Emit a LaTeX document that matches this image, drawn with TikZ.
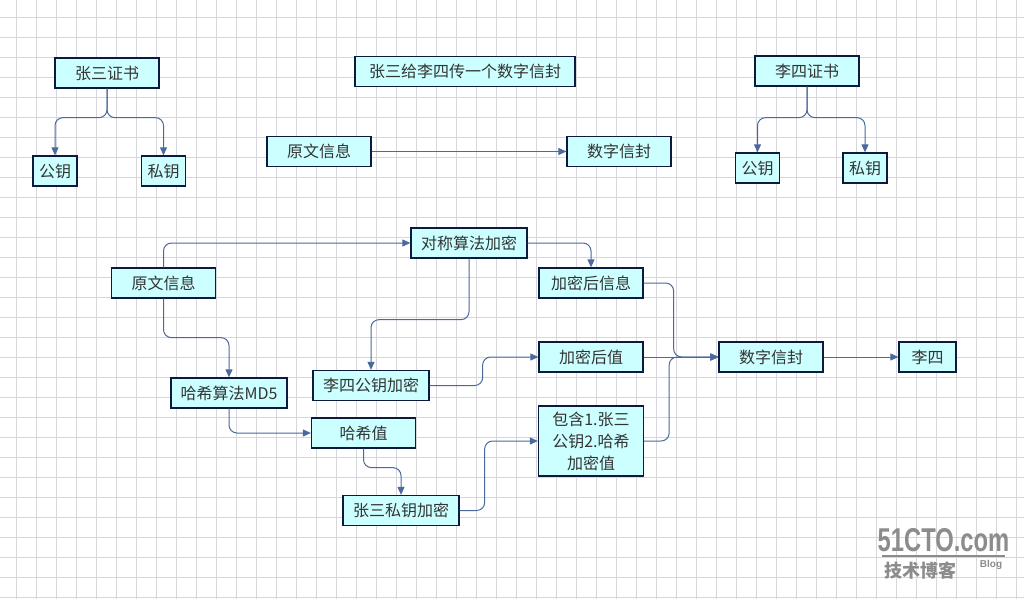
\documentclass[tikz,border=0pt]{standalone}
\usepackage{fontspec}
\setmainfont{Noto Sans CJK SC}
\newfontfamily\logofont{Liberation Sans}
\usetikzlibrary{arrows.meta}
\definecolor{boxfill}{HTML}{CCFFFF}
\definecolor{boxline}{HTML}{0D1A40}
\definecolor{linkblue}{HTML}{4A6A9E}
\definecolor{gridgray}{HTML}{D6D6DC}
\definecolor{logogray}{HTML}{8C8C8C}

\begin{document}
\begin{tikzpicture}[x=1pt,y=-1pt,
	link/.style={draw=linkblue,line width=1pt,rounded corners=8pt,
		-{Triangle[length=8pt,width=7pt,fill=linkblue]}}]
			\useasboundingbox (0,0) rectangle (1024,599);
			\fill[white] (0,0) rectangle (1024,599);
			\foreach \x in {16,36,...,1016}
				\draw[gridgray,line width=0.8pt] (\x,0) -- (\x,599);
			\foreach \y in {17,37,...,597}
				\draw[gridgray,line width=0.8pt] (0,\y) -- (1024,\y);
			
			\begin{scope}[every node/.style={draw=boxline,line width=1.3pt,fill=boxfill,
				text=black!80,inner sep=0pt,minimum height=30pt,minimum width=104pt,
				font=\fontsize{16}{22}\selectfont}]
			\node (A) at (107,73) {张三证书};
			\node (B) at (55,171) [minimum width=44pt]{公钥};
			\node (C) at (163.5,171) [minimum width=44pt]{私钥};
			\node (D) at (465,71.5) [minimum width=220pt]{张三给李四传一个数字信封};
			\node (E) at (319,151.5) {原文信息};
			\node (F) at (619,151.5) {数字信封};
			\node (G) at (807,71) {李四证书};
			\node (H) at (757.5,168) [minimum width=44pt]{公钥};
			\node (I) at (865,168) [minimum width=44pt]{私钥};
			\node (J) at (163.5,283) {原文信息};
			\node (K) at (469,243) [minimum width=116pt]{对称算法加密};
			\node (L) at (591,283) {加密后信息};
			\node (M) at (591,357) {加密后值};
			\node (N) at (371,385.5) [minimum width=116pt]{李四公钥加密};
			\node (O) at (229,393) [minimum width=116pt]{哈希算法MD5};
			\node (P) at (363.5,433) {哈希值};
			\node (Q) at (401,510.5) [minimum width=116pt]{张三私钥加密};
			\node (R) at (591,441) [minimum width=105pt,minimum height=70pt,align=center]
				{包含1.张三\\公钥2.哈希\\加密值};
			\node (S) at (771,357) {数字信封};
			\node (T) at (927.5,357) [minimum width=57pt]{李四};
			\end{scope}
			
			\draw[link] (A.south) -- ++(0,29) -| (B.north);
			\draw[link] (A.south) -- ++(0,29) -| (C.north);
			\draw[link] (G.south) -- ++(0,31) -| (H.north);
			\draw[link] (G.south) -- ++(0,31) -| (I.north);
			\draw[link] (E.east) -- (F.west);
			
			\draw[link] (J.north) |- (K.west);
			\draw[link] (J.south) -- ++(0,39) -| (O.north);
			\draw[link] (K.east) -| (L.north);
			\draw[link] (K.south) -- ++(0,61) -| (N.north);
			\draw[link] (N.east) -- ++(53,0) |- (M.west);
			\draw[link] (O.south) |- (P.west);
			\draw[link] (P.south) -- ++(0,19) -| (Q.north);
			\draw[link] (Q.east) -- ++(25,0) |- (R.west);
			\draw[link] (L.east) -- ++(30,0) |- (S.west);
			\draw[link] (M.east) -- (S.west);
			\draw[link] (R.east) -- ++(25,0) |- (S.west);
			\draw[link] (S.east) -- (T.west);
			
			% watermark
			\node[logogray,xscale=0.72,font=\logofont\bfseries\fontsize{33}{33}\selectfont]
				(W1) at (943.5,540) {51CTO.com};
			\draw[logogray,line width=2pt] (882,556) -- (1005,556);
			\node[logogray,font=\bfseries\fontsize{18}{18}\selectfont] (W2) at (920,571) {技术博客};
			\node[logogray,font=\logofont\bfseries\fontsize{10}{10}\selectfont] (W3) at (991,565) {Blog};
\end{tikzpicture}
\end{document}
